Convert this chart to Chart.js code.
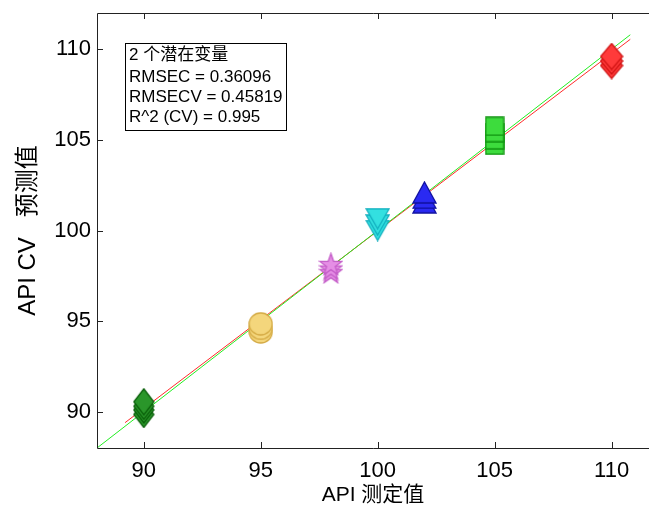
<!DOCTYPE html>
<html>
<head>
<meta charset="utf-8">
<script src="https://cdn.jsdelivr.net/npm/chart.js@4.4.1/dist/chart.umd.min.js"></script>
<style>
body { margin: 0; background: #fff; }
</style>
</head>
<body>
<canvas id="chart" width="649" height="508"></canvas>
<script>
// measured API values and the CV predictions at each level
const Levels = [90, 95, 98, 100, 102, 105, 110];
const Predicted = [
    [89.85, 90.1, 90.3, 90.55],
    [94.4, 94.6, 94.85],
    [97.7, 97.9, 98.15],
    [100.0, 100.3, 100.65],
    [101.55, 101.8, 102.1],
    [104.7, 105.0, 105.4, 105.75],
    [109.1, 109.35, 109.6]
];

// regression line (red) and ideal 1:1 line (green)
const FitX = [89.2, 110.8];
const FitY = [89.4, 110.55];
const IdealX = [88, 110.8];
const IdealY = [88, 110.8];

const XTicks = [90, 95, 100, 105, 110];
const YTicks = [90, 95, 100, 105, 110];

const InfoLines = ["2 个潜在变量", "RMSEC = 0.36096", "RMSECV = 0.45819", "R^2 (CV) = 0.995"];

const FONT = "'Liberation Sans', 'Noto Sans CJK SC', sans-serif";

// marker look for each level: shape, fill, edge, width, height
const Markers = [
    ["diamond", "#2a962a", "#0b600b", 20, 26],
    ["circle", "#f4d67c", "#d4aa44", 23, 22],
    ["star", "#e58ee5", "#c45cc8", 23, 22],
    ["down", "#33e0e0", "#12aebe", 23, 20],
    ["up", "#2a2af2", "#1010a0", 23, 21],
    ["square", "#3ddc3d", "#129612", 18, 18],
    ["diamond", "#ff3a3a", "#d01414", 22, 26]
];

function makeMarker(shape, fill, edge, w, h) {
    var c = document.createElement("canvas");
    c.width = w + 2;
    c.height = h + 2;
    var g = c.getContext("2d");
    var cx = c.width / 2, cy = c.height / 2;
    g.beginPath();
    if (shape == "diamond") {
        g.moveTo(cx, 1); g.lineTo(w + 1, cy); g.lineTo(cx, h + 1); g.lineTo(1, cy);
    } else if (shape == "circle") {
        g.ellipse(cx, cy, w / 2, h / 2, 0, 0, Math.PI * 2);
    } else if (shape == "square") {
        g.rect(1, 1, w, h);
    } else if (shape == "up") {
        g.moveTo(cx, 1); g.lineTo(w + 1, h + 1); g.lineTo(1, h + 1);
    } else if (shape == "down") {
        g.moveTo(1, 1); g.lineTo(w + 1, 1); g.lineTo(cx, h + 1);
    } else if (shape == "star") {
        var ro = w / 2, ri = ro * 0.4;
        for (var k = 0; k < 10; k++) {
            var r = k % 2 ? ri : ro;
            var a = -Math.PI / 2 + k * Math.PI / 5;
            var px = cx + r * Math.cos(a), py = cy + 1 + r * Math.sin(a);
            if (k == 0) g.moveTo(px, py); else g.lineTo(px, py);
        }
    }
    g.closePath();
    g.fillStyle = fill;
    g.fill();
    g.strokeStyle = edge;
    g.lineWidth = 1.3;
    g.stroke();
    return c;
}

var datasets = [];
Levels.forEach(function (lv, i) {
    var m = Markers[i];
    datasets.push({
        type: "scatter",
        data: Predicted[i].map(function (v) { return { x: lv, y: v }; }),
        pointStyle: makeMarker(m[0], m[1], m[2], m[3], m[4])
    });
});
datasets.push({
    type: "line",
    data: IdealX.map(function (x, i) { return { x: x, y: IdealY[i] }; }),
    borderColor: "#22ee22", borderWidth: 1, pointRadius: 0
});
datasets.push({
    type: "line",
    data: FitX.map(function (x, i) { return { x: x, y: FitY[i] }; }),
    borderColor: "#ff2a2a", borderWidth: 1, pointRadius: 0
});

const framePlugin = {
    id: "frame",
    afterDraw: function (chart) {
        var ctx = chart.ctx, a = chart.chartArea;
        var sx = chart.scales.x, sy = chart.scales.y;
        ctx.save();
        ctx.strokeStyle = "#222";
        ctx.lineWidth = 1;
        ctx.beginPath();
        ctx.moveTo(a.right, a.top + 0.5);
        ctx.lineTo(a.left + 0.5, a.top + 0.5);
        ctx.lineTo(a.left + 0.5, a.bottom + 0.5);
        ctx.lineTo(a.right, a.bottom + 0.5);
        XTicks.forEach(function (v) {
            var x = Math.round(sx.getPixelForValue(v)) + 0.5;
            ctx.moveTo(x, a.bottom); ctx.lineTo(x, a.bottom - 6);
            ctx.moveTo(x, a.top); ctx.lineTo(x, a.top + 6);
        });
        YTicks.forEach(function (v) {
            var y = Math.round(sy.getPixelForValue(v)) + 0.5;
            ctx.moveTo(a.left, y); ctx.lineTo(a.left + 6, y);
        });
        ctx.stroke();

        // info box
        ctx.fillStyle = "#fff";
        ctx.fillRect(125.5, 43.5, 161, 87);
        ctx.strokeStyle = "#000";
        ctx.strokeRect(125.5, 43.5, 161, 87);
        ctx.fillStyle = "#000";
        ctx.font = "17px " + FONT;
        ctx.textBaseline = "middle";
        var ys = [55.5, 77.5, 97.5, 117.5];
        InfoLines.forEach(function (t, i) { ctx.fillText(t, 129, ys[i]); });
        ctx.restore();
    }
};

new Chart(document.getElementById("chart"), {
    data: { datasets: datasets },
    plugins: [framePlugin],
    options: {
        responsive: false,
        animation: false,
        devicePixelRatio: 1,
        layout: { autoPadding: false, padding: { top: 13, right: 0, left: 0, bottom: 0 } },
        plugins: { legend: { display: false }, tooltip: { enabled: false } },
        scales: {
            x: {
                type: "linear", min: 88, max: 111.6,
                afterBuildTicks: function (s) { s.ticks = XTicks.map(function (v) { return { value: v }; }); },
                afterFit: function (s) { s.height = 60; s.paddingLeft = 0; s.paddingRight = 0; },
                grid: { display: false, drawTicks: false },
                border: { display: false },
                ticks: { color: "#000", font: { family: FONT, size: 22 }, padding: 10, maxRotation: 0 },
                title: { display: true, text: "API 测定值", color: "#000", font: { family: FONT, size: 21 }, padding: 0 }
            },
            y: {
                type: "linear", min: 88, max: 112,
                afterBuildTicks: function (s) { s.ticks = YTicks.map(function (v) { return { value: v }; }); },
                afterFit: function (s) { s.width = 97; s.paddingTop = 0; s.paddingBottom = 0; },
                grid: { display: false, drawTicks: false },
                border: { display: false },
                ticks: { color: "#000", font: { family: FONT, size: 22 }, padding: 6 },
                title: { display: true, text: "API CV   预测值", color: "#000", font: { family: FONT, size: 24 }, padding: { top: 14, bottom: 0 } }
            }
        }
    }
});
</script>
</body>
</html>
